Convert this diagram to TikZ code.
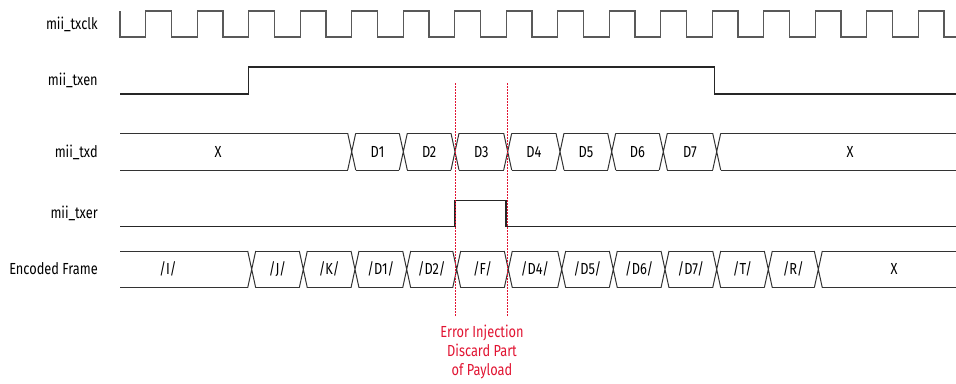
\documentclass[tikz,border=0pt]{standalone}
\usepackage{fontspec}
\setmainfont{Fira Sans}[FakeStretch=0.8]
\usepackage{tikz}
\usetikzlibrary{positioning}

\definecolor{errred}{RGB}{225,20,50}

\tikzset{
  sig/.style={line width=0.8pt, black!85},
  clk/.style={line width=0.9pt, black!65},
  bus/.style={line width=0.75pt, black!80},
  lbl/.style={anchor=east, inner sep=0pt, font=\fontsize{12}{13}\selectfont},
  val/.style={inner sep=0pt, font=\fontsize{12}{13}\selectfont},
  errline/.style={draw=errred, line width=0.9pt, dash pattern=on 1.5pt off 0.75pt},
  note/.style={text=errred, align=center, inner sep=0pt, font=\fontsize{12}{14.25}\selectfont}
}

% one bus row: top y, bottom y, segments a/b/label-x/text
\newcommand{\busrow}[4]{%
  \foreach \a/\b/\m/\t [count=\i] in {#4}{
    \draw[bus] (\a+4,#2) -- (\b-4,#2) (\a+4,#3) -- (\b-4,#3);
    \node[val] (#1\i) at (\m,{(#2+#3)/2}) {\t};
  }}
\newcommand{\buscross}[3]{%
  \foreach \c in {#3}
    \draw[bus] (\c-4,#1) -- (\c+4,#2) (\c-4,#2) -- (\c+4,#1);}

\begin{document}
\begin{tikzpicture}[x=0.75pt, y=-0.75pt]
    \useasboundingbox (0,0) rectangle (956,383);

    \node[lbl] (lclk) at (98,24) {mii\_txclk};
    \node[lbl] (len)  at (98,80) {mii\_txen};
    \node[lbl] (ltxd) at (98,152) {mii\_txd};
    \node[lbl] (ler)  at (98,213) {mii\_txer};
    \node[lbl] (lenc) at (98,269) {Encoded Frame};

    % clock
    \draw[clk] (120,11) -- (120,37)
      \foreach \k in {1,...,16} {
        -- ({120+(2*\k-1)*25.75},37) -- ({120+(2*\k-1)*25.75},11)
        -- ({120+2*\k*25.75},11) -- ({120+2*\k*25.75},37) }
      -- (956,37);

    \draw[sig] (120,94) -- (248.7,94) -- (248.7,67) -- (714.3,67) -- (714.3,94) -- (956,94);

    \busrow{txd}{133.3}{170}{116/351.7/218/X, 351.7/403.3/377.5/D1, 403.3/455/429.2/D2,
      455/507.7/481.4/D3, 507.7/560/533.9/D4, 560/611.7/585.9/D5, 611.7/663.3/637.5/D6,
      663.3/716.7/690/D7, 716.7/960/850/X}
    \buscross{133.3}{170}{351.7,403.3,455,507.7,560,611.7,663.3,716.7}

    \draw[sig] (120,226.7) -- (455,226.7) -- (455,200.7) -- (506,200.7) -- (506,226.7) -- (956,226.7);

    \busrow{enc}{251}{287.7}{116/251.7/168/{/I/}, 251.7/303.3/277.5/{/J/}, 303.3/355/329.2/{/K/},
      355/406.7/380.9/{/D1/}, 406.7/456.7/431.7/{/D2/}, 456.7/508.3/482.5/{/F/},
      508.3/561.7/535/{/D4/}, 561.7/613.3/587.5/{/D5/}, 613.3/665/639.2/{/D6/},
      665/716.7/690.9/{/D7/}, 716.7/768.3/742.5/{/T/}, 768.3/818.3/793.3/{/R/}, 818.3/960/894/X}
    \buscross{251}{287.7}{251.7,303.3,355,406.7,456.7,508.3,561.7,613.3,665,716.7,768.3,818.3}

    % error window
    \coordinate (errA) at (455.5,83);
    \coordinate (errB) at (507.5,83);
    \coordinate (errA2) at (455.5,317);
    \coordinate (errB2) at (507.5,317);
    \draw[errline] (errA) -- (errA2);
    \draw[errline] (errB) -- (errB2);
    \node[note] (errnote) at (482,352) {Error Injection\\Discard Part\\of Payload};
\end{tikzpicture}
\end{document}
